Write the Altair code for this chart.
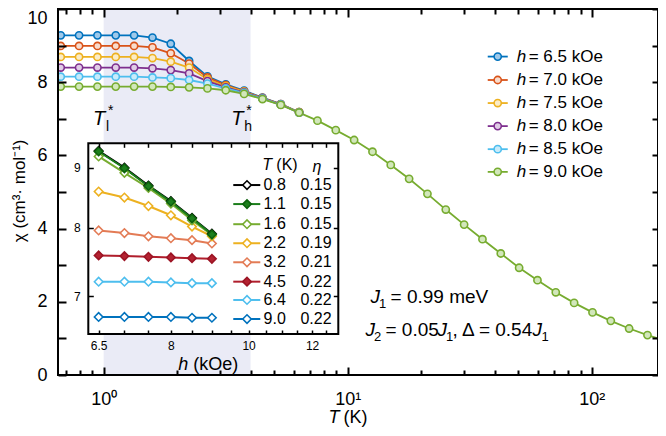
import altair as alt
import pandas as pd

FONT = "Liberation Sans, Arial, Helvetica, sans-serif"

# ---------------- main panel data ----------------
T_main = [0.667, 0.793, 0.943, 1.121, 1.333, 1.585, 1.884, 2.240, 2.663, 3.166,
          3.764, 4.475, 5.320, 6.325, 7.520, 8.940, 10.63, 12.64, 15.02, 17.86,
          21.23, 25.24, 30.01, 35.68, 42.42, 50.43, 59.96, 71.28, 84.75, 100.8,
          119.8, 142.4, 169.3, 201.3]
h_labels = ["6.5", "7.0", "7.5", "8.0", "8.5", "9.0"]
chi_h65 = [9.28, 9.28, 9.28, 9.28, 9.28, 9.22, 9.05, 8.58, 8.16, 7.94, 7.77, 7.58, 7.40, 7.18]
chi_h70 = [8.99, 8.99, 8.99, 8.99, 8.99, 8.95, 8.79, 8.51, 8.13, 7.92, 7.75, 7.57, 7.40, 7.18]
chi_h75 = [8.69, 8.69, 8.69, 8.69, 8.69, 8.66, 8.56, 8.40, 8.08, 7.89, 7.74, 7.56, 7.39, 7.18]
chi_h80 = [8.40, 8.40, 8.40, 8.40, 8.40, 8.38, 8.33, 8.24, 8.03, 7.86, 7.72, 7.56, 7.39, 7.17]
chi_h85 = [8.15, 8.15, 8.15, 8.15, 8.15, 8.13, 8.11, 8.06, 7.96, 7.83, 7.71, 7.55, 7.39, 7.17]
chi_h90 = [7.88, 7.88, 7.88, 7.88, 7.88, 7.88, 7.87, 7.86, 7.83, 7.78, 7.68, 7.54, 7.38, 7.17,
           6.95, 6.69, 6.42, 6.10, 5.74, 5.36, 4.95, 4.52, 4.11, 3.71, 3.32, 2.93, 2.59, 2.26,
           1.97, 1.71, 1.48, 1.27, 1.09, 0.93]
main_stroke = ["#0072BD", "#D95319", "#EDB120", "#7E2F8E", "#4DBEEE", "#77AC30"]
main_fill = ["#9fc9ea", "#f8dccd", "#fbecc6", "#e0cde6", "#c8ebfa", "#d2e7bb"]

# shaded crossover region and frame extents
shade_T = [1.0, 4.0]
x_dom = [0.65, 187]
y_dom = [0, 10]

# ---------------- inset data ----------------
h_inset = [6.5, 7.0, 7.5, 8.0, 8.5, 9.0]
T_inset = ["0.8", "1.1", "1.6", "2.2", "3.2", "4.5", "6.4", "9.0"]
eta_inset = ["0.15", "0.15", "0.15", "0.19", "0.21", "0.22", "0.22", "0.22"]
chi_T08 = [9.30, 9.00, 8.69, 8.43, 8.16, 7.91]
chi_T11 = [9.29, 8.99, 8.68, 8.42, 8.15, 7.90]
chi_T16 = [9.20, 8.91, 8.65, 8.39, 8.12, 7.89]
chi_T22 = [8.59, 8.49, 8.35, 8.20, 8.02, 7.87]
chi_T32 = [7.96, 7.92, 7.87, 7.84, 7.81, 7.76]
chi_T45 = [7.58, 7.57, 7.56, 7.55, 7.54, 7.53]
chi_T64 = [7.20, 7.20, 7.20, 7.19, 7.18, 7.18]
chi_T90 = [6.72, 6.72, 6.72, 6.72, 6.71, 6.71]
inset_stroke = ["#000000", "#0d620d", "#77AC30", "#EDB120", "#E37B55", "#9c1424", "#4DBEEE", "#0072BD"]
inset_line = ["#000000", "#1a7d1a", "#77AC30", "#EDB120", "#E37B55", "#b01e2c", "#4DBEEE", "#0072BD"]
inset_fill = ["#ffffff", "#1c7f1c", "#ffffff", "#ffffff", "#ffffff", "#b42231", "#ffffff", "#ffffff"]
draw_order = ["9.0", "6.4", "4.5", "3.2", "2.2", "0.8", "1.6", "1.1"]
inset_x_dom = [6.31, 12.94]
inset_y_dom = [6.5, 9.44]

# legend / annotation anchors (data coordinates of the main panel)
leg_rows = [8.70, 8.06, 7.43, 6.80, 6.17, 5.55]
leg_line_T = [37.5, 45.3]
leg_mark_T = 41.2
leg_text_T = 49.3
ileg_rows = [5.19, 4.67, 4.12, 3.60, 3.08, 2.55, 2.05, 1.53]
ileg_line_T = [3.398, 4.385]
ileg_mark_T = 3.868
ileg_T_T = 4.524
ileg_eta_T = 6.402

XS = alt.Scale(type="log", domain=x_dom, nice=False)
YS = alt.Scale(type="linear", domain=y_dom, nice=False, zero=False)
XI = alt.Scale(type="log", domain=inset_x_dom, range=[30.3, 280.3], nice=False)
YI = alt.Scale(type="log", domain=inset_y_dom, range=[325, 134.3], nice=False)


def ex(field, scale):
    return alt.X(f"{field}:Q", scale=scale, axis=None)


def ey(field, scale):
    return alt.Y(f"{field}:Q", scale=scale, axis=None)


def txt(rows, size, style="normal", align="left", baseline="alphabetic", dx=0, dy=0, angle=0):
    df = pd.DataFrame(rows, columns=["x", "y", "t"])
    return alt.Chart(df).mark_text(
        font=FONT, fontSize=size, fontStyle=style, align=align, baseline=baseline,
        dx=dx, dy=dy, angle=angle, color="black"
    ).encode(x=ex("x", XS), y=ey("y", YS), text="t:N")


# ---------------- build tables ----------------
main_rows = []
for lab, vals in zip(h_labels, [chi_h65, chi_h70, chi_h75, chi_h80, chi_h85, chi_h90]):
    for T, c in zip(T_main, vals):
        main_rows.append({"T": T, "chi": c, "h": lab})
df_main = pd.DataFrame(main_rows)

inset_vals = dict(zip(T_inset, [chi_T08, chi_T11, chi_T16, chi_T22, chi_T32, chi_T45, chi_T64, chi_T90]))
inset_rows = []
for i, name in enumerate(draw_order):
    for h, c in zip(h_inset, inset_vals[name]):
        inset_rows.append({"h": h, "chi": c, "key": f"s{i}", "T": name})
df_inset = pd.DataFrame(inset_rows)
key_dom = [f"s{i}" for i in range(len(draw_order))]
idx = [T_inset.index(n) for n in draw_order]
key_line = [inset_line[i] for i in idx]
key_stroke = [inset_stroke[i] for i in idx]
key_fill = [inset_fill[i] for i in idx]

hscale_stroke = alt.Scale(domain=h_labels, range=main_stroke)
hscale_fill = alt.Scale(domain=h_labels, range=main_fill)
tscale_stroke = alt.Scale(domain=T_inset, range=inset_stroke)
tscale_line = alt.Scale(domain=T_inset, range=inset_line)
tscale_fill = alt.Scale(domain=T_inset, range=inset_fill)

layers = []

# shaded region
layers.append(alt.Chart(pd.DataFrame({"x": [shade_T[0]], "x2": [shade_T[1]], "y": [y_dom[0]], "y2": [y_dom[1]]}))
              .mark_rect(color="#eaebf6")
              .encode(x=ex("x", XS), x2="x2:Q", y=ey("y", YS), y2="y2:Q"))

# main curves
layers.append(alt.Chart(df_main).mark_line(strokeWidth=1.8, clip=True).encode(
    x=ex("T", XS), y=ey("chi", YS),
    color=alt.Color("h:N", scale=hscale_stroke, legend=None)))
layers.append(alt.Chart(df_main).mark_point(shape="circle", filled=True, size=52, strokeWidth=1.6,
                                            opacity=1, clip=True).encode(
    x=ex("T", XS), y=ey("chi", YS),
    fill=alt.Fill("h:N", scale=hscale_fill, legend=None),
    stroke=alt.Stroke("h:N", scale=hscale_stroke, legend=None)))

# T_l*, T_h* labels
layers.append(txt([(0.905, 6.83, "T"), (3.334, 6.83, "T")], 20, style="italic"))
layers.append(txt([(0.905, 6.83, "l"), (3.334, 6.83, "h")], 14, dx=13, dy=6))
layers.append(txt([(0.905, 6.83, "*"), (3.334, 6.83, "*")], 14, dx=15, dy=-10))

# J annotations
J1 = (12.41, 1.967)
J2 = (11.83, 1.066)
layers.append(txt([(J1[0], J1[1], "J"), (J2[0], J2[1], "J")], 19, style="italic"))
layers.append(txt([(J1[0], J1[1], "1"), (J2[0], J2[1], "2")], 13, dx=8.5, dy=5))
layers.append(txt([(J1[0], J1[1], "= 0.99 meV"), (J2[0], J2[1], "= 0.05")], 19, dx=20))
layers.append(txt([(J2[0], J2[1], "J")], 19, style="italic", dx=72))
layers.append(txt([(J2[0], J2[1], "1")], 13, dx=80.5, dy=5))
layers.append(txt([(J2[0], J2[1], ", \u0394 = 0.54")], 19, dx=87))
layers.append(txt([(J2[0], J2[1], "J")], 19, style="italic", dx=167))
layers.append(txt([(J2[0], J2[1], "1")], 13, dx=176, dy=5))

# main legend
df_leg = pd.DataFrame({"x1": [leg_line_T[0]] * 6, "x2": [leg_line_T[1]] * 6, "xm": [leg_mark_T] * 6,
                       "xt": [leg_text_T] * 6, "y": leg_rows, "h": h_labels,
                       "lab": [f"= {h} kOe" for h in h_labels], "hh": ["h"] * 6})
layers.append(alt.Chart(df_leg).mark_rule(strokeWidth=1.8).encode(
    x=ex("x1", XS), x2="x2:Q", y=ey("y", YS), color=alt.Color("h:N", scale=hscale_stroke, legend=None)))
layers.append(alt.Chart(df_leg).mark_point(shape="circle", filled=True, size=52, strokeWidth=1.6, opacity=1).encode(
    x=ex("xm", XS), y=ey("y", YS),
    fill=alt.Fill("h:N", scale=hscale_fill, legend=None),
    stroke=alt.Stroke("h:N", scale=hscale_stroke, legend=None)))
layers.append(alt.Chart(df_leg).mark_text(font=FONT, fontSize=17, fontStyle="italic", align="left",
                                          baseline="middle", color="black").encode(
    x=ex("xt", XS), y=ey("y", YS), text="hh:N"))
layers.append(alt.Chart(df_leg).mark_text(font=FONT, fontSize=17, align="left", baseline="middle",
                                          dx=12, color="black").encode(
    x=ex("xt", XS), y=ey("y", YS), text="lab:N"))

# axis titles / inset x title
layers.append(txt([(8.34, -1.31, "T"), (2.02, 0.137, "h")], 18, style="italic"))
layers.append(txt([(8.34, -1.31, "(K)"), (2.02, 0.137, "(kOe)")], 18, dx=15))
layers.append(txt([(0.4536, 5.03, "\u03c7 (cm\u00b3\u00b7 mol\u207b\u00b9)")], 17, align="center",
                  baseline="middle", angle=270))

# inset box
layers.append(alt.Chart(pd.DataFrame({"x": [inset_x_dom[0]], "x2": [inset_x_dom[1]],
                                      "y": [inset_y_dom[0]], "y2": [inset_y_dom[1]]}))
              .mark_rect(fill="white", stroke="black", strokeWidth=2)
              .encode(x=ex("x", XI), x2="x2:Q", y=ey("y", YI), y2="y2:Q"))

# inset curves
layers.append(alt.Chart(df_inset).mark_line(strokeWidth=2).encode(
    x=ex("h", XI), y=ey("chi", YI),
    color=alt.Color("key:N", scale=alt.Scale(domain=key_dom, range=key_line), legend=None)))
layers.append(alt.Chart(df_inset).mark_point(shape="diamond", filled=True, size=72, strokeWidth=1.6,
                                             opacity=1).encode(
    x=ex("h", XI), y=ey("chi", YI),
    fill=alt.Fill("key:N", scale=alt.Scale(domain=key_dom, range=key_fill), legend=None),
    stroke=alt.Stroke("key:N", scale=alt.Scale(domain=key_dom, range=key_stroke), legend=None)))

# inset legend
df_ileg = pd.DataFrame({"x1": [ileg_line_T[0]] * 8, "x2": [ileg_line_T[1]] * 8, "xm": [ileg_mark_T] * 8,
                        "xt": [ileg_T_T] * 8, "xe": [ileg_eta_T] * 8, "y": ileg_rows,
                        "T": T_inset, "eta": eta_inset})
layers.append(alt.Chart(df_ileg).mark_rule(strokeWidth=2).encode(
    x=ex("x1", XS), x2="x2:Q", y=ey("y", YS), color=alt.Color("T:N", scale=tscale_line, legend=None)))
layers.append(alt.Chart(df_ileg).mark_point(shape="diamond", filled=True, size=72, strokeWidth=1.6,
                                            opacity=1).encode(
    x=ex("xm", XS), y=ey("y", YS),
    fill=alt.Fill("T:N", scale=tscale_fill, legend=None),
    stroke=alt.Stroke("T:N", scale=tscale_stroke, legend=None)))
layers.append(alt.Chart(df_ileg).mark_text(font=FONT, fontSize=16, align="left", baseline="middle",
                                           color="black").encode(
    x=ex("xt", XS), y=ey("y", YS), text="T:N"))
layers.append(alt.Chart(df_ileg).mark_text(font=FONT, fontSize=16, align="left", baseline="middle",
                                           color="black").encode(
    x=ex("xe", XS), y=ey("y", YS), text="eta:N"))
layers.append(txt([(4.47, 5.74, "T"), (7.17, 5.67, "\u03b7")], 16, style="italic", baseline="middle"))
layers.append(txt([(4.47, 5.74, "(K)")], 16, baseline="middle", dx=14))

# frame of main panel
layers.append(alt.Chart(pd.DataFrame({"x": [x_dom[0]], "x2": [x_dom[1]], "y": [y_dom[0]], "y2": [y_dom[1]]}))
              .mark_rect(fillOpacity=0, stroke="black", strokeWidth=2)
              .encode(x=ex("x", XS), x2="x2:Q", y=ey("y", YS), y2="y2:Q"))

# ---------------- axes (inward ticks via negative offset) ----------------
x_major = [1, 10, 100]
x_minor = [0.7, 0.8, 0.9, 2, 3, 4, 5, 6, 7, 8, 9, 20, 30, 40, 50, 60, 70, 80, 90]
y_ticks = [0, 1, 2, 3, 4, 5, 6, 7, 8, 9, 10]
ix_ticks = [6.5, 7, 7.5, 8, 8.5, 9, 9.5, 10, 10.5, 11, 11.5, 12, 12.5]
iy_ticks = [7, 8, 9]

base = dict(domain=False, grid=False, title=None, tickColor="black", zindex=1,
            labelFont=FONT, labelColor="black", labelFlush=False, labelOverlap=False)


def axis_layer(xaxis=None, yaxis=None, xs=XS, ys=YS, xv=1.0, yv=1.0):
    df = pd.DataFrame({"x": [xv], "y": [yv]})
    return alt.Chart(df).mark_point(opacity=0).encode(
        x=alt.X("x:Q", scale=xs, axis=xaxis), y=alt.Y("y:Q", scale=ys, axis=yaxis))


layers.append(axis_layer(xaxis=alt.Axis(
    orient="bottom", values=x_major, tickSize=8, offset=-8, tickWidth=2,
    labelExpr="datum.value == 1 ? '10\u2070' : datum.value == 10 ? '10\u00b9' : '10\u00b2'",
    labelFontSize=18, labelPadding=15, **base)))
layers.append(axis_layer(xaxis=alt.Axis(
    orient="bottom", values=x_minor, tickSize=5, offset=-5, tickWidth=2, labels=False, **base)))
layers.append(axis_layer(xaxis=alt.Axis(
    orient="top", values=x_major, tickSize=8, offset=-8, tickWidth=2, labels=False, **base)))
layers.append(axis_layer(xaxis=alt.Axis(
    orient="top", values=x_minor, tickSize=5, offset=-5, tickWidth=2, labels=False, **base)))
layers.append(axis_layer(yaxis=alt.Axis(
    orient="left", values=y_ticks, tickSize=8, offset=-8, tickWidth=2,
    labelExpr="datum.value % 2 == 0 ? '' + datum.value : ''",
    labelBaseline={"condition": {"test": "datum.value == 10", "value": "top"}, "value": "middle"},
    labelFontSize=18, labelPadding=11, **base)))
layers.append(axis_layer(yaxis=alt.Axis(
    orient="right", values=y_ticks, tickSize=6, offset=-6, tickWidth=2, labels=False, **base)))

# inset axes
layers.append(axis_layer(xs=XI, ys=YI, xv=8.0, yv=8.0, xaxis=alt.Axis(
    orient="bottom", values=ix_ticks, tickSize=4, offset=-45, tickWidth=1.5,
    labelExpr="datum.value == 6.5 ? '6.5' : datum.value == 8 ? '8' : datum.value == 10 ? '10' : datum.value == 12 ? '12' : ''",
    labelFontSize=12, labelPadding=6.5, **base)))
layers.append(axis_layer(xs=XI, ys=YI, xv=8.0, yv=8.0, xaxis=alt.Axis(
    orient="top", values=ix_ticks, tickSize=4, offset=-138.3, tickWidth=1.5, labels=False, **base)))
layers.append(axis_layer(xs=XI, ys=YI, xv=8.0, yv=8.0, yaxis=alt.Axis(
    orient="left", values=iy_ticks, tickSize=5, offset=-35.3, tickWidth=1.5,
    labelExpr="'' + datum.value", labelFontSize=12, labelPadding=8, **base)))
layers.append(axis_layer(xs=XI, ys=YI, xv=8.0, yv=8.0, yaxis=alt.Axis(
    orient="right", values=iy_ticks, tickSize=5, offset=-324.7, tickWidth=1.5, labels=False, **base)))

chart = alt.layer(*layers).resolve_scale(
    x="independent", y="independent", color="independent", fill="independent", stroke="independent"
).properties(
    width=600, height=366,
    padding={"left": 50, "top": 1, "right": 0, "bottom": 53},
    autosize=alt.AutoSizeParams(type="none"),
    background="white",
).configure_view(stroke=None).configure(font=FONT)

chart.save("out.html", embed_options={"renderer": "svg", "actions": False})
